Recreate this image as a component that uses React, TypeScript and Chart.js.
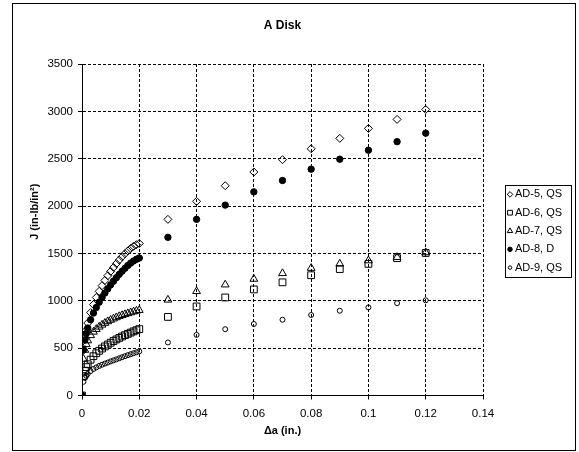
import React, { useEffect, useRef } from "react";
import { Chart, registerables } from "chart.js";
Chart.register(...registerables);

const FONT = "'Liberation Sans', Arial, Helvetica, sans-serif";

const chartTitle = "A Disk";
const xTitle = "Δa (in.)";
const yTitle = "J (in-lb/in²)";
const xTicks = [0, 0.02, 0.04, 0.06, 0.08, 0.1, 0.12, 0.14];
const xTickLabels = ["0", "0.02", "0.04", "0.06", "0.08", "0.1", "0.12", "0.14"];
const yTicks = [0, 500, 1000, 1500, 2000, 2500, 3000, 3500];
const yTickLabels = ["0", "500", "1000", "1500", "2000", "2500", "3000", "3500"];

const seriesNames = ["AD-5, QS", "AD-6, QS", "AD-7, QS", "AD-8, D", "AD-9, QS"];

const denseX = [
  0, 0.0005, 0.001, 0.0015, 0.002, 0.003, 0.004, 0.005, 0.006, 0.007, 0.008,
  0.009, 0.01, 0.011, 0.012, 0.013, 0.014, 0.015, 0.016, 0.017, 0.018, 0.019, 0.02,
];
const sparseX = [0.03, 0.04, 0.05, 0.06, 0.07, 0.08, 0.09, 0.1, 0.11, 0.12];

const ad5Dense = [
  0, 480, 600, 690, 765, 875, 960, 1035, 1100, 1160, 1215, 1265, 1310, 1352, 1392,
  1430, 1465, 1497, 1527, 1553, 1575, 1592, 1605,
];
const ad5Sparse = [1860, 2050, 2215, 2360, 2490, 2605, 2715, 2820, 2915, 3020];

const ad6Dense = [
  0, 205, 262, 300, 330, 378, 415, 446, 472, 496, 518, 538, 557, 575, 592, 608,
  623, 637, 651, 664, 677, 689, 701,
];
const ad6Sparse = [830, 940, 1035, 1120, 1195, 1270, 1335, 1390, 1450, 1505];

const ad7Dense = [
  0, 385, 480, 540, 580, 635, 672, 700, 725, 746, 765, 782, 797, 811, 824, 836,
  847, 857, 867, 876, 885, 893, 901,
];
const ad7Sparse = [1010, 1100, 1170, 1230, 1290, 1345, 1390, 1425, 1460, 1510];

const ad8Dense = [
  0, 480, 585, 655, 712, 800, 870, 930, 985, 1035, 1082, 1126, 1168, 1207, 1244,
  1279, 1312, 1343, 1372, 1398, 1420, 1438, 1452,
];
const ad8Sparse = [1670, 1860, 2010, 2150, 2270, 2390, 2495, 2590, 2680, 2770];

const ad9Dense = [
  0, 145, 185, 208, 228, 258, 280, 297, 312, 325, 337, 348, 360, 371, 382, 393,
  404, 415, 426, 436, 446, 456, 466,
];
const ad9Sparse = [560, 640, 700, 755, 800, 850, 895, 930, 975, 1005];

const toPoints = (dense: number[], sparse: number[]) => [
  ...denseX.map((x, i) => ({ x, y: dense[i] })),
  ...sparseX.map((x, i) => ({ x, y: sparse[i] })),
];

const styles = [
  { pointStyle: "rectRot", radius: 4, fill: false },
  { pointStyle: "rect", radius: 4.8, fill: false },
  { pointStyle: "triangle", radius: 4.5, fill: false },
  { pointStyle: "circle", radius: 3.2, fill: true },
  { pointStyle: "circle", radius: 2.5, fill: false },
];

function drawMarker(ctx: CanvasRenderingContext2D, style: string, fill: boolean, x: number, y: number, r: number) {
  ctx.beginPath();
  if (style === "rectRot") {
    ctx.moveTo(x, y - r);
    ctx.lineTo(x + r, y);
    ctx.lineTo(x, y + r);
    ctx.lineTo(x - r, y);
    ctx.closePath();
  } else if (style === "rect") {
    const s = r * Math.SQRT1_2;
    ctx.rect(x - s, y - s, 2 * s, 2 * s);
  } else if (style === "triangle") {
    ctx.moveTo(x, y - r);
    ctx.lineTo(x + r * 0.866, y + r * 0.5);
    ctx.lineTo(x - r * 0.866, y + r * 0.5);
    ctx.closePath();
  } else {
    ctx.arc(x, y, r, 0, Math.PI * 2);
  }
  if (fill) {
    ctx.fillStyle = "#000";
    ctx.fill();
  }
  ctx.strokeStyle = "#000";
  ctx.lineWidth = 1;
  ctx.stroke();
}

const legendPlugin = {
  id: "boxLegend",
  afterDraw(chart: any) {
    const ctx: CanvasRenderingContext2D = chart.ctx;
    const area = chart.chartArea;
    const left = area.right + 22;
    const rowH = 18.3;
    const h = rowH * seriesNames.length + 0.5;
    const w = 66;
    const top = (area.top + area.bottom) / 2 - h / 2 + 1;
    ctx.save();
    ctx.strokeStyle = "#000";
    ctx.lineWidth = 1;
    ctx.strokeRect(Math.round(left) + 0.5, Math.round(top) + 0.5, w, Math.round(h));
    ctx.font = `11px ${FONT}`;
    ctx.textBaseline = "middle";
    ctx.textAlign = "left";
    seriesNames.forEach((name, i) => {
      const cy = top + rowH * (i + 0.5) + 0.5;
      const st = styles[i];
      drawMarker(ctx, st.pointStyle, st.fill, left + 5, cy, st.radius * 0.7);
      ctx.fillStyle = "#000";
      ctx.fillText(name, left + 10, cy);
    });
    ctx.restore();
  },
};

const yTitlePlugin = {
  id: "yTitle",
  afterDraw(chart: any) {
    const ctx: CanvasRenderingContext2D = chart.ctx;
    const area = chart.chartArea;
    ctx.save();
    ctx.translate(35, (area.top + area.bottom) / 2 - 18);
    ctx.rotate(-Math.PI / 2);
    ctx.font = `bold 11px ${FONT}`;
    ctx.fillStyle = "#000";
    ctx.textAlign = "center";
    ctx.textBaseline = "middle";
    ctx.fillText(yTitle, 0, 0);
    ctx.restore();
  },
};

export default function App() {
  const ref = useRef<HTMLCanvasElement | null>(null);
  useEffect(() => {
    if (!ref.current) return;
    const allData = [
      toPoints(ad5Dense, ad5Sparse),
      toPoints(ad6Dense, ad6Sparse),
      toPoints(ad7Dense, ad7Sparse),
      toPoints(ad8Dense, ad8Sparse),
      toPoints(ad9Dense, ad9Sparse),
    ];
    const chart = new Chart(ref.current, {
      type: "scatter",
      data: {
        datasets: seriesNames.map((name, i) => ({
          label: name,
          data: allData[i],
          pointStyle: styles[i].pointStyle as any,
          pointRadius: styles[i].radius,
          pointBorderWidth: 1,
          pointBorderColor: "#000",
          pointBackgroundColor: styles[i].fill ? "#000" : "rgba(0,0,0,0)",
          showLine: false,
        })),
      },
      options: {
        responsive: false,
        animation: false,
        events: [],
        layout: { padding: { left: 0, right: 96, top: 0, bottom: 0 } },
        plugins: {
          legend: { display: false },
          tooltip: { enabled: false },
          title: {
            display: true,
            text: chartTitle,
            fullSize: false,
            color: "#000",
            font: { family: FONT, size: 12, weight: "bold" },
            padding: { top: 18, bottom: 31.6 },
          },
        },
        scales: {
          x: {
            type: "linear",
            min: 0,
            max: 0.14,
            afterBuildTicks: (s: any) => {
              s.ticks = xTicks.map((v) => ({ value: v }));
            },
            afterFit: (s: any) => {
              s.height = 56.5;
            },
            ticks: {
              color: "#000",
              font: { family: FONT, size: 11.5 },
              padding: 7,
              maxRotation: 0,
              callback: (_v: any, i: number) => xTickLabels[i],
            },
            grid: {
              color: "#000",
              lineWidth: 1,
              tickLength: 4,
              tickColor: "#000",
              tickBorderDash: [],
            },
            border: { display: true, color: "#000", width: 1, dash: [3, 2] },
            title: {
              display: true,
              text: xTitle,
              color: "#000",
              font: { family: FONT, size: 11, weight: "bold" },
              padding: { top: 0, bottom: 14 },
            },
          },
          y: {
            type: "linear",
            min: 0,
            max: 3500,
            afterBuildTicks: (s: any) => {
              s.ticks = yTicks.map((v) => ({ value: v }));
            },
            afterFit: (s: any) => {
              s.width = 82;
            },
            ticks: {
              color: "#000",
              font: { family: FONT, size: 11.5 },
              padding: 5,
              callback: (_v: any, i: number) => yTickLabels[i],
            },
            grid: {
              color: "#000",
              lineWidth: 1,
              tickLength: 4,
              tickColor: "#000",
              tickBorderDash: [],
            },
            border: { display: true, color: "#000", width: 1, dash: [3, 2] },
            title: { display: false, text: yTitle },
          },
        },
      },
      plugins: [legendPlugin, yTitlePlugin],
    });
    return () => chart.destroy();
  }, []);

  return (
    <div style={{ position: "absolute", left: 0, top: 0, width: 579, height: 452, background: "#fff" }}>
      <div
        style={{
          position: "absolute",
          left: 12,
          top: 3,
          width: 564,
          height: 448,
          border: "1px solid #000",
          boxSizing: "border-box",
        }}
      />
      <canvas ref={ref} width={579} height={452} style={{ position: "absolute", left: 0, top: 0 }} />
    </div>
  );
}
